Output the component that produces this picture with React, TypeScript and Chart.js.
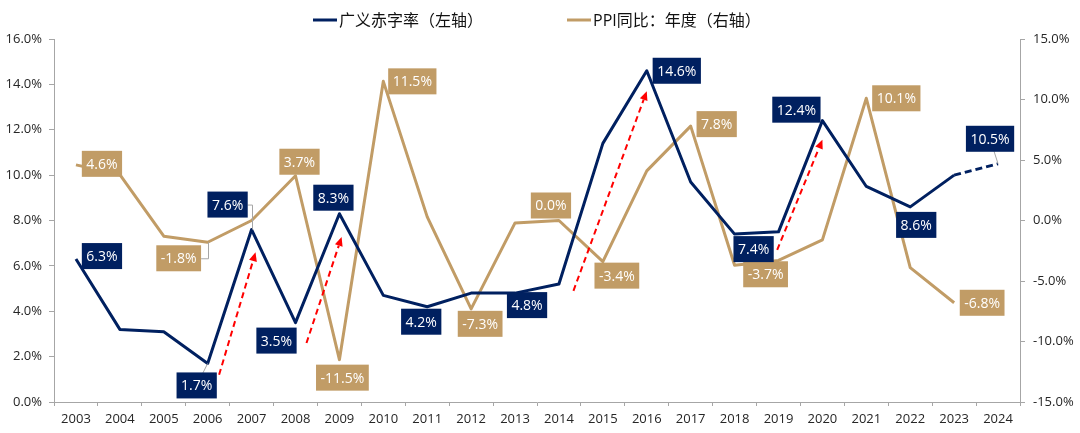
import React, { useEffect, useRef } from 'react';
import { Chart, registerables } from 'chart.js';

Chart.register(...registerables);

// ---------- data ----------
const years = ['2003', '2004', '2005', '2006', '2007', '2008', '2009', '2010', '2011', '2012', '2013',
  '2014', '2015', '2016', '2017', '2018', '2019', '2020', '2021', '2022', '2023', '2024'];

// 广义赤字率（左轴）, %
const deficitRate = [6.3, 3.2, 3.1, 1.7, 7.6, 3.5, 8.3, 4.7, 4.2, 4.8, 4.8, 5.2, 11.4, 14.6, 9.7, 7.4, 7.5, 12.4, 9.5, 8.6, 10.0, 10.5];

// PPI同比：年度（右轴）, %
const ppiYoY = [4.6, 3.8, -1.3, -1.8, 0.0, 3.7, -11.5, 11.5, 0.3, -7.3, -0.2, 0.0, -3.4, 4.1, 7.8, -3.7, -3.3, -1.6, 10.1, -3.9, -6.8, null];

const leftMin = 0;
const leftMax = 16;
const leftStep = 2;
const rightMin = -15;
const rightMax = 15;
const rightStep = 5;

const legendLabels = ['广义赤字率（左轴）', 'PPI同比：年度（右轴）'];

// label boxes: dataset, index, offset of box centre from point (px), leader type
const blueLabels = [
  { i: 0, dx: 26, dy: -3, leader: 'none' },
  { i: 3, dx: -11, dy: 22, leader: 'line' },
  { i: 4, dx: -24, dy: -25, leader: 'elbow' },
  { i: 5, dx: -19, dy: 18, leader: 'none' },
  { i: 6, dx: -6, dy: -16, leader: 'none' },
  { i: 8, dx: -6, dy: 15, leader: 'none' },
  { i: 10, dx: 12, dy: 12, leader: 'none' },
  { i: 13, dx: 30, dy: 0, leader: 'none' },
  { i: 15, dx: 19, dy: 15, leader: 'none' },
  { i: 17, dx: -26, dy: -11, leader: 'none' },
  { i: 19, dx: 6, dy: 18, leader: 'none' },
  { i: 21, dx: -8, dy: -25, leader: 'line' },
];
const goldLabels = [
  { i: 0, dx: 26, dy: -1, leader: 'none' },
  { i: 3, dx: -29, dy: 16, leader: 'elbow' },
  { i: 5, dx: 4, dy: -14, leader: 'none' },
  { i: 6, dx: 3, dy: 18, leader: 'none' },
  { i: 7, dx: 29, dy: 0, leader: 'none' },
  { i: 9, dx: 9, dy: 15, leader: 'none' },
  { i: 11, dx: -8, dy: -15, leader: 'none' },
  { i: 12, dx: 14, dy: 14, leader: 'none' },
  { i: 14, dx: 26, dy: -2, leader: 'none' },
  { i: 15, dx: 31, dy: 9, leader: 'none' },
  { i: 18, dx: 30, dy: 0, leader: 'none' },
  { i: 20, dx: 28, dy: 0, leader: 'none' },
];

// red dashed arrows: (category index, left-axis value) start -> end
const arrows = [
  { x0: 3.26, v0: 1.2, x1: 4.09, v1: 6.6 },
  { x0: 5.25, v0: 2.6, x1: 6.05, v1: 7.27 },
  { x0: 11.33, v0: 4.9, x1: 13.0, v1: 13.7 },
  { x0: 15.97, v0: 6.7, x1: 17.0, v1: 11.56 },
];

const NAVY = '#002060';
const GOLD = '#C19C66';
const AXIS = '#a6a6a6';
const TEXT = '#262626';
const FONT = '"Open Sans", "Noto Sans CJK SC", sans-serif';

const fmt = (v: number) => v.toFixed(1) + '%';

const overlayPlugin = {
  id: 'overlay',
  afterDatasetsDraw(chart: any) {
    const ctx = chart.ctx;
    const xs = chart.scales.x;
    const ys = chart.scales.y;
    ctx.save();

    // arrows
    arrows.forEach((a) => {
      const sx = xs.getPixelForValue(a.x0);
      const sy = ys.getPixelForValue(a.v0);
      const ex = xs.getPixelForValue(a.x1);
      const ey = ys.getPixelForValue(a.v1);
      const ang = Math.atan2(ey - sy, ex - sx);
      const head = 9;
      const lx = ex - Math.cos(ang) * head;
      const ly = ey - Math.sin(ang) * head;
      ctx.strokeStyle = '#FF0000';
      ctx.lineWidth = 2;
      ctx.setLineDash([6, 4]);
      ctx.beginPath();
      ctx.moveTo(sx, sy);
      ctx.lineTo(lx, ly);
      ctx.stroke();
      ctx.setLineDash([]);
      ctx.fillStyle = '#FF0000';
      ctx.beginPath();
      ctx.moveTo(ex, ey);
      ctx.lineTo(lx + Math.cos(ang + Math.PI / 2) * 4, ly + Math.sin(ang + Math.PI / 2) * 4);
      ctx.lineTo(lx + Math.cos(ang - Math.PI / 2) * 4, ly + Math.sin(ang - Math.PI / 2) * 4);
      ctx.closePath();
      ctx.fill();
    });

    // label boxes
    const drawSet = (dsIndex: number, specs: any[], values: any[], color: string) => {
      const meta = chart.getDatasetMeta(dsIndex);
      specs.forEach((s) => {
        const el = meta.data[s.i];
        if (!el) return;
        const px = el.x;
        const py = el.y;
        const cx = px + s.dx;
        const cy = py + s.dy;
        const text = fmt(values[s.i]);
        ctx.font = '14px ' + FONT;
        const w = ctx.measureText(text).width + 9;
        const h = 26;
        const left = cx - w / 2;
        const right = cx + w / 2;
        ctx.strokeStyle = '#a6a6a6';
        ctx.lineWidth = 1;
        if (s.leader === 'elbow') {
          const edge = px > cx ? right : left;
          ctx.beginPath();
          ctx.moveTo(edge, cy + 0.5);
          ctx.lineTo(Math.round(px) + 0.5, cy + 0.5);
          ctx.lineTo(Math.round(px) + 0.5, py);
          ctx.stroke();
        } else if (s.leader === 'line') {
          ctx.beginPath();
          ctx.moveTo(cx, cy);
          ctx.lineTo(px, py);
          ctx.stroke();
        }
        ctx.fillStyle = color;
        ctx.fillRect(left, cy - h / 2, w, h);
        ctx.fillStyle = '#ffffff';
        ctx.textAlign = 'center';
        ctx.textBaseline = 'middle';
        ctx.fillText(text, cx, cy + 1);
      });
    };
    drawSet(1, goldLabels, ppiYoY, GOLD);
    drawSet(0, blueLabels, deficitRate, NAVY);

    ctx.restore();
  },
  afterDraw(chart: any) {
    // legend
    const ctx = chart.ctx;
    ctx.save();
    ctx.font = '16px ' + FONT;
    ctx.textBaseline = 'middle';
    ctx.textAlign = 'left';
    const y = 20;
    const items = [
      { x: 313, color: NAVY, text: legendLabels[0] },
      { x: 567, color: GOLD, text: legendLabels[1] },
    ];
    items.forEach((it) => {
      ctx.strokeStyle = it.color;
      ctx.lineWidth = 3;
      ctx.beginPath();
      ctx.moveTo(it.x, y);
      ctx.lineTo(it.x + 24, y);
      ctx.stroke();
      ctx.fillStyle = '#111111';
      ctx.fillText(it.text, it.x + 26, y + 1);
    });
    ctx.restore();
  },
};

export default function App() {
  const canvasRef = useRef<HTMLCanvasElement | null>(null);

  useEffect(() => {
    if (!canvasRef.current) return;
    const chart = new Chart(canvasRef.current, {
      type: 'line',
      data: {
        labels: years,
        datasets: [
          {
            label: legendLabels[0],
            data: deficitRate,
            yAxisID: 'y',
            borderColor: NAVY,
            backgroundColor: NAVY,
            borderWidth: 3,
            pointRadius: 0,
            tension: 0,
            borderJoinStyle: 'round',
            segment: {
              borderDash: (c: any) => (c.p1DataIndex === years.length - 1 ? [7, 4] : undefined),
            },
          },
          {
            label: legendLabels[1],
            data: ppiYoY,
            yAxisID: 'y1',
            borderColor: GOLD,
            backgroundColor: GOLD,
            borderWidth: 3,
            pointRadius: 0,
            tension: 0,
            borderJoinStyle: 'round',
          },
        ],
      },
      options: {
        animation: false,
        responsive: false,
        maintainAspectRatio: false,
        layout: { padding: { top: 39, left: 0, right: 0, bottom: 0 } },
        plugins: {
          legend: { display: false },
          tooltip: { enabled: false },
        },
        scales: {
          x: {
            offset: true,
            grid: {
              offset: true,
              drawOnChartArea: false,
              drawTicks: true,
              tickLength: 4,
              color: AXIS,
            },
            border: { display: true, color: AXIS },
            ticks: {
              autoSkip: false,
              maxRotation: 0,
              padding: 5,
              color: TEXT,
              font: { family: FONT, size: 13 },
            },
            afterFit: (s: any) => { s.height = 31; },
          },
          y: {
            position: 'left',
            min: leftMin,
            max: leftMax,
            ticks: {
              stepSize: leftStep,
              padding: 7,
              color: TEXT,
              font: { family: FONT, size: 13 },
              callback: (v: any) => Number(v).toFixed(1) + '%',
            },
            grid: { drawOnChartArea: false, drawTicks: true, tickLength: 5, color: AXIS },
            border: { display: true, color: AXIS },
            afterFit: (s: any) => { s.width = 54; },
          },
          y1: {
            position: 'right',
            min: rightMin,
            max: rightMax,
            ticks: {
              stepSize: rightStep,
              padding: 8,
              color: TEXT,
              font: { family: FONT, size: 13 },
              callback: (v: any) => Number(v).toFixed(1) + '%',
            },
            grid: { drawOnChartArea: false, drawTicks: true, tickLength: 5, color: AXIS },
            border: { display: true, color: AXIS },
            afterFit: (s: any) => { s.width = 60; },
          },
        },
      },
      plugins: [overlayPlugin],
    });
    return () => chart.destroy();
  }, []);

  return (
    <div style={{ position: 'fixed', left: 0, top: 0, width: 1080, height: 433, background: '#ffffff' }}>
      <canvas ref={canvasRef} width={1080} height={433} style={{ width: 1080, height: 433, display: 'block' }} />
    </div>
  );
}
